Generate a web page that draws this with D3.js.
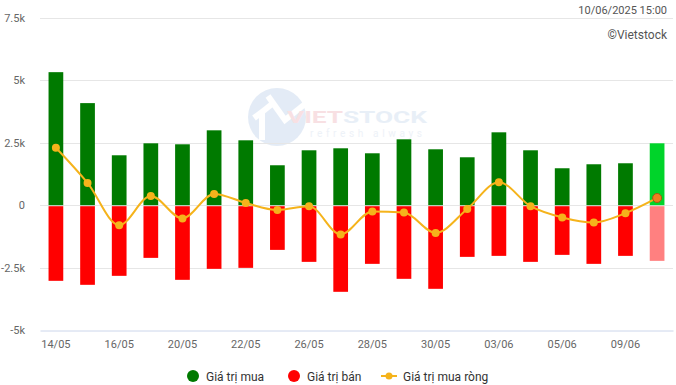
<!DOCTYPE html>
<html>
<head>
<meta charset="utf-8">
<script src="https://cdn.jsdelivr.net/npm/d3@7"></script>
<style>
  body { margin: 0; background: #fff; }
  svg { font-family: Roboto, "Noto Sans", sans-serif; display: block; }
</style>
</head>
<body>
<div id="chart"></div>
<script>
// Chart data
var dates = ['14/05', '15/05', '16/05', '19/05', '20/05', '21/05', '22/05', '23/05', '26/05', '27/05',
             '28/05', '29/05', '30/05', '02/06', '03/06', '04/06', '05/06', '06/06', '09/06', '10/06'];
var buyValues = [5330, 4090, 2000, 2480, 2440, 3000, 2600, 1600, 2200, 2280,
                 2080, 2640, 2240, 1920, 2920, 2200, 1480, 1640, 1680, 2480];
var sellValues = [-3030, -3190, -2830, -2110, -2990, -2550, -2510, -1790, -2270, -3470,
                  -2350, -2950, -3350, -2070, -2030, -2270, -1990, -2350, -2030, -2230];
var netValues = [2300, 890, -800, 370, -530, 450, 90, -190, -40, -1170,
                 -250, -290, -1110, -150, 920, -40, -490, -690, -320, 290];
var yTicks = [-5000, -2500, 0, 2500, 5000, 7500];
var legendItems = ['Giá trị mua', 'Giá trị bán', 'Giá trị mua ròng'];

var width = 676,
    height = 385,
    margin = {top: 18, right: 3, bottom: 55, left: 40},
    colors = {buy: '#007a00', sell: '#ff0000', buyLast: '#00d42a', sellLast: '#ff8080',
              net: '#f5b31b', netLast: '#ed7d1f'};

var svg = d3.select('#chart').append('svg')
    .attr('width', width)
    .attr('height', height);

var x = d3.scaleBand()
    .domain(dates)
    .range([margin.left, width - margin.right])
    .paddingInner(0.535)
    .paddingOuter(0.27);

var y = d3.scaleLinear()
    .domain([-5000, 7500])
    .range([height - margin.bottom, margin.top]);

// Watermark
var wm = svg.append('g').attr('opacity', 0.5);
wm.append('circle').attr('cx', 277).attr('cy', 117).attr('r', 29).attr('fill', '#c9d9ee');
wm.append('path').attr('d', 'M262,140 L262,112 L254,118 M262,112 L272,104 M268,96 L285,120 L305,104')
    .attr('fill', 'none').attr('stroke', '#fff').attr('stroke-width', 6);
var wmText = wm.append('text').attr('x', 287).attr('y', 123)
    .attr('font-size', 17).attr('font-weight', 'bold')
    .attr('textLength', 140).attr('lengthAdjust', 'spacingAndGlyphs');
wmText.append('tspan').attr('fill', '#f3c3c8').text('VIET');
wmText.append('tspan').attr('fill', '#d3e1f1').text('STOCK');
wm.append('text').attr('x', 310).attr('y', 137).attr('font-size', 10)
    .attr('textLength', 112).attr('lengthAdjust', 'spacing')
    .attr('fill', '#dde6f2').text('refresh always');

// Grid lines
svg.append('g')
    .selectAll('line').data(yTicks.filter(function(d) { return d !== -5000; })).enter()
    .append('line')
    .attr('x1', margin.left)
    .attr('x2', width - margin.right)
    .attr('y1', function(d) { return Math.round(y(d)) + 0.5; })
    .attr('y2', function(d) { return Math.round(y(d)) + 0.5; })
    .attr('stroke', '#e6e6e6');

// Y axis labels
var yAxis = d3.axisLeft(y)
    .tickValues(yTicks)
    .tickSize(0)
    .tickPadding(0)
    .tickFormat(function(d) { return d === 0 ? '0' : (d / 1000) + 'k'; });
svg.append('g')
    .attr('transform', 'translate(25,0)')
    .call(yAxis)
    .call(function(g) { g.select('.domain').remove(); })
    .selectAll('text')
    .attr('font-size', 11)
    .attr('font-family', 'Roboto, sans-serif')
    .attr('fill', '#666');

// Bars
svg.append('g').selectAll('rect').data(dates).enter()
    .append('rect')
    .attr('x', function(d) { return x(d); })
    .attr('width', x.bandwidth())
    .attr('y', function(d, i) { return y(buyValues[i]); })
    .attr('height', function(d, i) { return y(0) - y(buyValues[i]); })
    .attr('fill', function(d, i) { return i === dates.length - 1 ? colors.buyLast : colors.buy; });

svg.append('g').selectAll('rect').data(dates).enter()
    .append('rect')
    .attr('x', function(d) { return x(d); })
    .attr('width', x.bandwidth())
    .attr('y', y(0) + 1)
    .attr('height', function(d, i) { return y(sellValues[i]) - y(0) - 1; })
    .attr('fill', function(d, i) { return i === dates.length - 1 ? colors.sellLast : colors.sell; });

// X axis
var xAxis = d3.axisBottom(x)
    .tickValues(dates.filter(function(d, i) { return i % 2 === 0; }))
    .tickSize(0)
    .tickPadding(10);
var xg = svg.append('g')
    .attr('transform', 'translate(0,' + (Math.round(y(-5000)) + 0.5) + ')')
    .call(xAxis);
xg.select('.domain').attr('stroke', '#ccd6eb');
xg.selectAll('text')
    .attr('font-size', 11)
    .attr('font-family', 'Roboto, sans-serif')
    .attr('fill', '#666');

// Net line
var line = d3.line()
    .x(function(d, i) { return x(dates[i]) + x.bandwidth() / 2; })
    .y(function(d) { return y(d); })
    .curve(d3.curveMonotoneX);

svg.append('path')
    .datum(netValues)
    .attr('d', line)
    .attr('fill', 'none')
    .attr('stroke', colors.net)
    .attr('stroke-width', 2);

svg.append('g').selectAll('circle').data(netValues).enter()
    .append('circle')
    .attr('cx', function(d, i) { return x(dates[i]) + x.bandwidth() / 2; })
    .attr('cy', function(d) { return y(d); })
    .attr('r', function(d, i) { return i === netValues.length - 1 ? 4.5 : 4; })
    .attr('fill', function(d, i) { return i === netValues.length - 1 ? colors.netLast : colors.net; })
    .attr('stroke', function(d, i) { return i === netValues.length - 1 ? '#a35a10' : 'none'; })
    .attr('stroke-width', 1);

// Header texts
svg.append('text')
    .attr('x', 667).attr('y', 14)
    .attr('text-anchor', 'end')
    .attr('font-size', 11)
    .attr('fill', '#555')
    .text('10/06/2025 15:00');
svg.append('text')
    .attr('x', 667).attr('y', 39)
    .attr('text-anchor', 'end')
    .attr('font-size', 12)
    .attr('fill', '#555')
    .text('©Vietstock');

// Legend
var legendX = [193, 294, 389];
var legend = svg.append('g');
legendItems.forEach(function(name, i) {
    var g = legend.append('g').attr('transform', 'translate(' + legendX[i] + ',376)');
    if (i < 2) {
        g.append('circle').attr('r', 6).attr('fill', i === 0 ? colors.buy : colors.sell);
    } else {
        g.append('line').attr('x1', -8).attr('x2', 8).attr('stroke', colors.net).attr('stroke-width', 2);
        g.append('circle').attr('r', 3.5).attr('fill', colors.net);
    }
    g.append('text')
        .attr('x', i < 2 ? 13 : 14)
        .attr('y', 4.5)
        .attr('font-size', 12)
        .attr('fill', '#333')
        .text(name);
});
</script>
</body>
</html>
